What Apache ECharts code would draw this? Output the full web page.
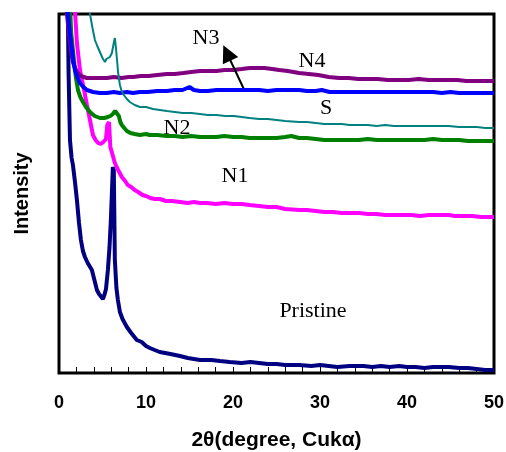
<!DOCTYPE html>
<html>
<head>
<meta charset="utf-8">
<script src="https://cdn.jsdelivr.net/npm/echarts@6/dist/echarts.min.js"></script>
<style>html,body{margin:0;padding:0;background:#fff}#c{width:506px;height:452px}</style>
</head>
<body>
<div id="c"></div>
<script>
// x ticks
const xTicks = [0, 10, 20, 30, 40, 50];
// series names
const seriesNames = ['Pristine', 'N1', 'N2', 'N3', 'N4', 'S'];
// [2θ, intensity (a.u.)]
const pristine = [[1.0,372],[1.1,300],[1.26,233],[1.45,215],[1.6,208],[1.85,190],[2.06,173],[2.3,150],[2.52,133],[2.75,122],[2.98,116],[3.3,110],[3.78,103],[4.1,92],[4.36,83],[4.6,79],[4.8,77],[5.05,74],[5.25,79],[5.4,84],[5.62,103],[5.8,125],[5.96,153],[6.1,185],[6.19,206],[6.3,203],[6.42,113],[6.6,85],[6.77,73],[7.0,61],[7.3,54],[7.8,46],[8.3,40],[8.94,33],[9.5,31],[10.0,27],[10.44,25],[11.0,23],[11.58,21],[12.2,20],[12.8,19],[13.9,17],[14.8,15],[16.2,13],[17.5,13],[18.5,12],[19.6,11],[21,10],[22,11],[23,10],[24,9],[25,9],[26,8],[27.6,8],[29,7],[30,8],[31,7],[32,6],[33.4,7],[35,7],[36,6],[37,7],[38,6],[39.1,7],[40,6],[41,6],[42,5],[43,6],[44.8,6],[46,5],[47,5],[48,4],[49,3],[50,3]];
const n1 = [[1.7,375],[1.83,363],[2.06,330],[2.41,303],[2.9,282],[3.21,268],[3.56,253],[3.9,238],[4.2,233],[4.5,230],[4.8,229],[5.1,231],[5.4,234],[5.55,248],[5.75,251],[5.9,226],[6.1,220],[6.42,210],[6.8,203],[7.22,196],[7.6,192],[7.9,188],[8.3,186],[8.7,183],[9.1,181],[9.6,178],[10.0,177],[10.5,175],[11.0,174],[11.6,174],[12.3,172],[13.0,172],[13.9,171],[14.8,170],[15.5,171],[16.2,170],[17,170],[18,169],[19,170],[20,169],[21,169],[21.9,168],[23,167],[24,166],[25,166],[26,164],[27.6,163],[28.5,163],[29.5,162],[30.5,161],[31.5,161],[32.5,160],[33.4,160],[34.5,160],[35.5,159],[36.5,159],[37.5,158],[38.5,158],[39.5,158],[40.5,158],[41.5,157],[42.5,158],[43.5,158],[44.8,158],[45.5,157],[46.5,157],[47.5,157],[48.5,156],[49.3,156],[50,156]];
const n2 = [[1.2,380],[1.4,340],[1.72,313],[1.95,295],[2.18,283],[2.45,276],[2.75,271],[3.1,266],[3.56,261],[4.1,257],[4.7,255],[5.2,255],[5.62,256],[5.9,257],[6.19,259],[6.45,262],[6.65,263],[6.88,257],[7.05,251],[7.22,248],[7.5,245],[7.8,242],[8.2,240],[8.7,239],[9.3,238],[10.0,239],[10.4,238],[11.3,238],[12.4,237],[13.3,237],[14.2,236],[15.2,237],[16.2,236],[17.2,236],[18.1,236],[19.0,237],[20,236],[21,236],[21.9,235],[23,235],[24,235],[25,235],[26,236],[26.7,237],[27.6,235],[28.5,235],[29.5,234],[30.5,233],[31.5,233],[32.2,233],[33.5,233],[34.5,233],[35.5,234],[36.5,233],[37.5,233],[38.5,233],[39.1,233],[40,233],[41,233],[42,233],[43,234],[44,233],[44.8,233],[46,233],[47,232],[48,232],[49,232],[50,232]];
const n3 = [[0.8,375],[1.03,359],[1.25,340],[1.49,323],[1.65,312],[1.83,303],[2.1,296],[2.41,290],[2.8,286],[3.21,283],[3.9,281],[4.7,280],[5.5,280],[6.3,281],[7.0,280],[7.8,281],[8.5,280],[9.3,281],[10.2,281],[11.3,282],[12.4,282],[13.3,283],[14.2,283],[15.0,286],[15.5,283],[16.2,282],[17.1,282],[18.1,283],[19.0,283],[20,283],[21,283],[22,283],[23,283],[24,282],[25,283],[26,283],[27.6,283],[28.5,282],[29.5,282],[30.2,283],[31.1,281],[32,281],[33,281],[34,281],[35,281],[36,281],[37,281],[38,281],[39.1,281],[40,281],[41,281],[42,281],[43,281],[44,280],[45,281],[46,280],[47,280],[48,280],[49,280],[50,280]];
const n4 = [[0.57,375],[0.92,359],[1.1,343],[1.26,330],[1.45,318],[1.6,311],[1.8,306],[2.06,301],[2.5,297],[3.21,295],[3.9,295],[4.7,295],[5.5,295],[6.3,296],[7.2,295],[8.0,296],[8.5,296],[9.4,297],[10.3,297],[11.3,298],[12.4,299],[13.3,299],[14.3,300],[15.2,301],[16.2,302],[17.1,302],[18.1,302],[19.0,303],[20,303],[21,304],[21.9,305],[22.8,305],[23.6,305],[24.5,304],[25.3,303],[26.3,302],[27.6,300],[28.7,299],[29.8,298],[31,296],[32.2,295],[33.3,295],[34.4,294],[35.5,294],[36.6,294],[37.8,293],[39.1,293],[40.2,293],[41.3,294],[42.5,293],[43.6,293],[44.8,293],[45.8,293],[46.8,292],[47.8,292],[48.8,292],[50,292]];
const s = [[3.33,375],[3.56,359],[3.85,345],[4.13,333],[4.4,327],[4.7,321],[5.0,315],[5.28,311],[5.45,314],[5.62,313],[5.85,316],[6.08,320],[6.25,328],[6.42,335],[6.55,325],[6.65,315],[6.8,300],[7.0,288],[7.2,282],[7.45,278],[7.8,274],[8.14,271],[8.7,268],[9.29,266],[10.0,266],[10.8,264],[11.6,263],[12.4,262],[13.3,261],[14.2,260],[15.2,260],[16.2,259],[17.1,258],[18.1,258],[19.1,257],[20.1,257],[21.0,256],[21.9,255],[23.0,254],[24.0,254],[25.0,253],[26.0,252],[27.6,251],[28.5,251],[29.5,250],[30.5,249],[31.5,249],[32.5,249],[33.4,248],[34.5,248],[35.5,248],[36.5,247],[37.5,248],[38.5,247],[39.1,247],[40.5,247],[41.5,247],[42.5,247],[43.5,247],[44.8,247],[46,246],[47,246],[48,246],[49,245],[50,245]];
// arrow annotation (from N3 line towards label), data coords
const arrowFrom = [21.3, 283];
const arrowTo = [19.3, 320];

const chart = echarts.init(document.getElementById('c'), null, {renderer: 'canvas'});
const sans = 'Arial, "Liberation Sans", sans-serif';
const serif = '"Times New Roman", "Liberation Serif", serif';
function line(name, data, color, width, z, extra) {
  return Object.assign({
    name, type: 'line', data, showSymbol: false, symbol: 'none', clip: true, z,
    lineStyle: {color, width}, itemStyle: {color}, silent: true, emphasis: {disabled: true}
  }, extra || {});
}
const labelStyle = (text, x, y) => ({
  type: 'text', x, y, silent: true,
  style: {text, fill: '#000', font: '22px ' + serif, textAlign: 'center', textVerticalAlign: 'middle', align: 'center', verticalAlign: 'middle'}
});
chart.setOption({
  animation: false,
  backgroundColor: '#fff',
  grid: {left: 59, right: 12, top: 14, bottom: 79, containLabel: false, outerBoundsMode: 'none',
    show: true, borderColor: '#000', borderWidth: 3, backgroundColor: 'transparent'},
  xAxis: {
    type: 'value', min: xTicks[0], max: xTicks[xTicks.length - 1], interval: 10,
    axisLine: {show: false},
    axisTick: {show: true, inside: true, length: 6, lineStyle: {color: '#000', width: 1}},
    minorTick: {show: true, splitNumber: 5, length: 6, lineStyle: {color: '#000', width: 1}},
    splitLine: {show: false},
    axisLabel: {margin: 21, color: '#000', fontFamily: sans, fontWeight: 'bold', fontSize: 18},
    name: '2θ(degree, Cukα)', nameLocation: 'middle', nameGap: 57,
    nameTextStyle: {color: '#000', fontFamily: sans, fontWeight: 'bold', fontSize: 21}
  },
  yAxis: {
    type: 'value', min: 0, max: 359,
    axisLine: {show: false}, axisTick: {show: false}, axisLabel: {show: false}, splitLine: {show: false},
    name: 'Intensity', nameLocation: 'middle', nameGap: 27, nameRotate: 90,
    nameTextStyle: {color: '#000', fontFamily: sans, fontWeight: 'bold', fontSize: 20}
  },
  series: [
    line(seriesNames[0], pristine, '#000080', 4, 2),
    line(seriesNames[1], n1, '#ff00ff', 4, 3),
    line(seriesNames[2], n2, '#008000', 4, 4),
    line(seriesNames[3], n3, '#0000ff', 4, 5, {
      markLine: {
        silent: true, symbol: ['none', 'triangle'], symbolSize: [17, 17],
        label: {show: false}, lineStyle: {color: '#000', width: 2, type: 'solid'},
        emphasis: {disabled: true},
        data: [[{coord: arrowFrom}, {coord: arrowTo}]]
      }
    }),
    line(seriesNames[4], n4, '#800080', 4, 4),
    line(seriesNames[5], s, '#008080', 2, 6)
  ],
  graphic: [
    labelStyle('N3', 206, 38),
    labelStyle('N4', 312, 61),
    labelStyle('S', 326, 108),
    labelStyle('N2', 177, 128),
    labelStyle('N1', 235, 176),
    labelStyle('Pristine', 313, 311)
  ]
});
</script>
</body>
</html>
